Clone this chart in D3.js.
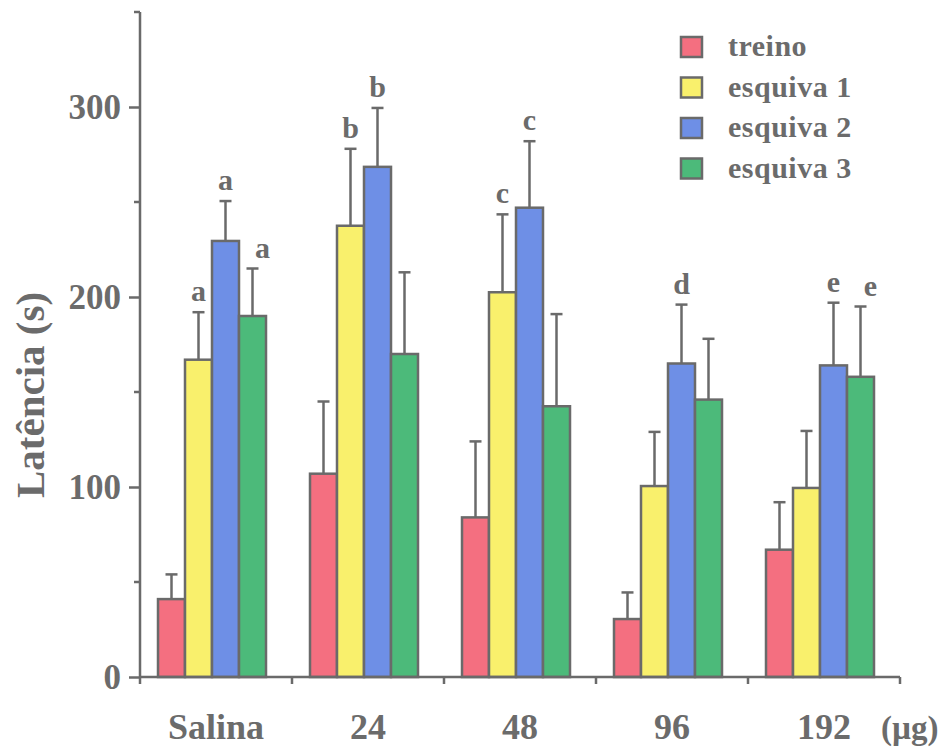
<!DOCTYPE html>
<html>
<head>
<meta charset="utf-8">
<script src="https://cdn.jsdelivr.net/npm/d3@7"></script>
<style>
  body { margin: 0; background: #fff; }
  svg { display: block; }
  text { font-family: "Liberation Serif", "Times New Roman", serif; font-weight: bold; fill: #6b6b6b; }
</style>
</head>
<body>
<script>
(function() {

//------------------------------------------------------------------------------
// Data
//------------------------------------------------------------------------------

var groups = ["Salina", "24", "48", "96", "192"];
var series = ["treino", "esquiva 1", "esquiva 2", "esquiva 3"];
var colors = ["#f46f80", "#f9f06c", "#6e8fe6", "#4cba7a"];

var treino    = [41, 107, 84, 30.5, 67];
var esquiva1  = [167, 237.5, 202.5, 100.5, 99.5];
var esquiva2  = [229.5, 268.5, 247, 165, 164];
var esquiva3  = [190, 170, 142.5, 146, 158];

var treinoErr   = [13, 38, 40, 14, 25];
var esquiva1Err = [25, 40.5, 41, 28.5, 30];
var esquiva2Err = [21, 31, 35, 31, 33];
var esquiva3Err = [25, 43, 48.5, 32, 37];

var yTicks = [0, 100, 200, 300];
var yMinorTicks = [50, 150, 250, 350];

// significance letters: group, series, letter
var letters = [
  {g: "Salina", s: "esquiva 1", t: "a"},
  {g: "Salina", s: "esquiva 2", t: "a"},
  {g: "Salina", s: "esquiva 3", t: "a"},
  {g: "24", s: "esquiva 1", t: "b"},
  {g: "24", s: "esquiva 2", t: "b"},
  {g: "48", s: "esquiva 1", t: "c"},
  {g: "48", s: "esquiva 2", t: "c"},
  {g: "96", s: "esquiva 2", t: "d"},
  {g: "192", s: "esquiva 2", t: "e"},
  {g: "192", s: "esquiva 3", t: "e"}
];

//------------------------------------------------------------------------------
// Setup
//------------------------------------------------------------------------------

var W = 948, H = 750;
var axisColor = "#6a6a6a";
var values = [treino, esquiva1, esquiva2, esquiva3];
var errors = [treinoErr, esquiva1Err, esquiva2Err, esquiva3Err];

var bars = [];
groups.forEach(function(g, gi) {
  series.forEach(function(s, si) {
    bars.push({g: g, s: s, si: si, v: values[si][gi], e: errors[si][gi]});
  });
});

var svg = d3.select("body").append("svg")
  .attr("width", W)
  .attr("height", H);

var y = d3.scaleLinear().domain([0, 350]).range([677, 12]);
var x0 = d3.scaleBand().domain(groups).range([140, 900]);
var groupOffset = 18;
var x1 = d3.scaleBand().domain(series).range([0, 108]);

function barX(d) { return x0(d.g) + groupOffset + x1(d.s); }
function barMid(d) { return barX(d) + x1.bandwidth() / 2; }

//--------------------------------------
// Error bars (behind bars)
//--------------------------------------

var err = svg.append("g")
  .attr("stroke", axisColor)
  .attr("stroke-width", 2.5);

err.selectAll("line.stem")
  .data(bars)
  .enter().append("line")
  .attr("class", "stem")
  .attr("x1", barMid).attr("x2", barMid)
  .attr("y1", function(d) { return y(d.v); })
  .attr("y2", function(d) { return y(d.v + d.e); });

err.selectAll("line.cap")
  .data(bars)
  .enter().append("line")
  .attr("class", "cap")
  .attr("x1", function(d) { return barMid(d) - 6; })
  .attr("x2", function(d) { return barMid(d) + 6; })
  .attr("y1", function(d) { return y(d.v + d.e); })
  .attr("y2", function(d) { return y(d.v + d.e); });

//--------------------------------------
// Bars
//--------------------------------------

svg.append("g").selectAll("rect")
  .data(bars)
  .enter().append("rect")
  .attr("x", barX)
  .attr("y", function(d) { return y(d.v); })
  .attr("width", x1.bandwidth())
  .attr("height", function(d) { return y(0) - y(d.v); })
  .attr("fill", function(d) { return colors[d.si]; })
  .attr("stroke", axisColor)
  .attr("stroke-width", 2.5);

//--------------------------------------
// Letters
//--------------------------------------

// the last series' letters sit a little to the right of the bar
svg.append("g").selectAll("text")
  .data(letters)
  .enter().append("text")
  .attr("x", function(d) {
    var shift = d.s == series[series.length - 1] ? 10 : 0;
    return x0(d.g) + groupOffset + x1(d.s) + x1.bandwidth() / 2 + shift;
  })
  .attr("y", function(d) {
    var si = series.indexOf(d.s), gi = groups.indexOf(d.g);
    return y(values[si][gi] + errors[si][gi]) - 11;
  })
  .attr("text-anchor", "middle")
  .style("font-size", "30px")
  .text(function(d) { return d.t; });

//--------------------------------------
// Axes
//--------------------------------------

var yAxis = svg.append("g")
  .attr("transform", "translate(140,0)")
  .call(d3.axisLeft(y).tickValues(yTicks).tickSize(11).tickPadding(8));
yAxis.select(".domain").attr("stroke", axisColor).attr("stroke-width", 2.5).attr("d", "M0," + y(350) + "V" + y(0));
yAxis.selectAll(".tick line").attr("stroke", axisColor).attr("stroke-width", 2.5);
yAxis.selectAll(".tick text")
  .attr("fill", "#6b6b6b")
  .style("font-family", "'Liberation Serif', 'Times New Roman', serif")
  .style("font-weight", "bold")
  .style("font-size", "35px");

svg.append("g").selectAll("line")
  .data(yMinorTicks)
  .enter().append("line")
  .attr("x1", 134).attr("x2", 140)
  .attr("y1", y).attr("y2", y)
  .attr("stroke", axisColor)
  .attr("stroke-width", 2.5);

var xEdges = groups.map(function(g) { return x0(g); }).concat(x0.range()[1]);

svg.append("line")
  .attr("x1", 139).attr("x2", x0.range()[1])
  .attr("y1", y(0)).attr("y2", y(0))
  .attr("stroke", axisColor)
  .attr("stroke-width", 2.5);

svg.append("g").selectAll("line")
  .data(xEdges)
  .enter().append("line")
  .attr("x1", function(d) { return d; }).attr("x2", function(d) { return d; })
  .attr("y1", y(0)).attr("y2", y(0) + 7)
  .attr("stroke", axisColor)
  .attr("stroke-width", 2.5);

svg.append("g").selectAll("text")
  .data(groups)
  .enter().append("text")
  .attr("x", function(d) { return x0(d) + x0.bandwidth() / 2; })
  .attr("y", 739)
  .attr("text-anchor", "middle")
  .style("font-size", "36px")
  .text(function(d) { return d; });

svg.append("text")
  .attr("x", 881)
  .attr("y", 739)
  .style("font-size", "33px")
  .text("(\u00b5g)");

svg.append("text")
  .attr("transform", "translate(44,395) rotate(-90)")
  .attr("text-anchor", "middle")
  .style("font-size", "41px")
  .text("Latência (s)");

//--------------------------------------
// Legend
//--------------------------------------

var legend = svg.append("g").selectAll("g")
  .data(series)
  .enter().append("g")
  .attr("transform", function(d, i) { return "translate(681," + (37 + i * 40.5) + ")"; });

legend.append("rect")
  .attr("width", 21)
  .attr("height", 20)
  .attr("fill", function(d, i) { return colors[i]; })
  .attr("stroke", axisColor)
  .attr("stroke-width", 2.5);

legend.append("text")
  .attr("x", 47)
  .attr("y", 19)
  .style("font-size", "30px")
  .style("letter-spacing", "0.5px")
  .text(function(d) { return d; });

})();
</script>
</body>
</html>
